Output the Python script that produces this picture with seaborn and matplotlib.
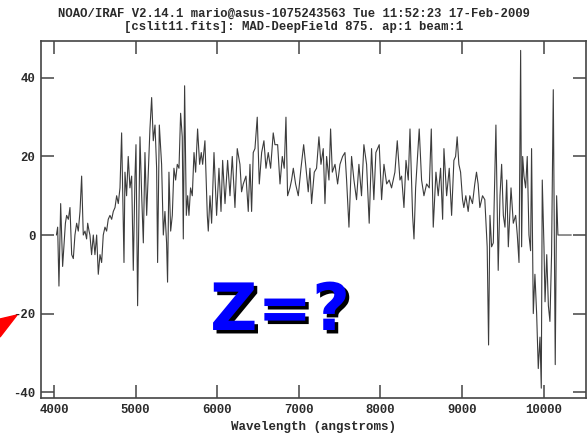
import matplotlib
matplotlib.use("Agg")
import matplotlib.pyplot as plt
import matplotlib.patheffects as pe
from matplotlib.patches import Polygon
import seaborn as sns
import pandas as pd

# spectrum (wavelength in angstroms, flux)
wave = [4030, 4045, 4061, 4082, 4106, 4125, 4140, 4155, 4176, 4196, 4217, 4237, 4257, 4278,
        4298, 4319, 4339, 4359, 4380, 4400, 4413, 4430, 4441, 4461, 4482, 4502, 4523, 4543,
        4564, 4584, 4604, 4625, 4645, 4665, 4686, 4707, 4727, 4748, 4768, 4788, 4809, 4829,
        4845, 4858,
        4870, 4890, 4910, 4931, 4952, 4972, 4993, 5005, 5025, 5054, 5075, 5095, 5115, 5136,
        5156, 5176, 5197, 5217, 5238, 5258, 5270, 5291, 5319, 5340, 5360, 5380, 5392, 5409,
        5430, 5450, 5470, 5491, 5511, 5532, 5552, 5572, 5585, 5601, 5622, 5638, 5654, 5674,
        5695, 5716, 5736, 5760, 5785,
        5805, 5822, 5850, 5879, 5891, 5912, 5932, 5961, 5993, 6022, 6047, 6067, 6096, 6128,
        6157, 6185, 6218, 6246, 6279, 6299, 6320, 6353, 6381, 6402, 6422, 6442, 6463, 6491,
        6516, 6545, 6573, 6598, 6626, 6655, 6687,
        6708, 6741, 6770, 6798, 6822, 6843, 6863, 6892, 6912, 6933, 6961, 6994, 7027, 7060,
        7084, 7116, 7137, 7157, 7190, 7218, 7247, 7272, 7300, 7321, 7341, 7370, 7390, 7411,
        7444, 7476, 7505, 7537, 7566, 7586, 7615,
        7647, 7676, 7708, 7737, 7769, 7798, 7831, 7863, 7892, 7920, 7945, 7986, 8015, 8044,
        8077, 8108, 8137, 8178, 8207, 8240, 8260, 8289, 8314, 8342, 8363, 8395, 8412, 8432,
        8476, 8505, 8534, 8567, 8599, 8624, 8648, 8681, 8709, 8738, 8763, 8779, 8812, 8844,
        8873, 8901, 8922, 8941, 8962, 8983, 9007, 9023, 9047, 9076, 9096, 9129, 9157, 9178,
        9198, 9219, 9252, 9280, 9309, 9326, 9343, 9363, 9384, 9416, 9444, 9466, 9486, 9507,
        9527, 9548, 9568, 9601, 9629, 9658, 9678, 9699, 9719, 9731, 9744, 9760, 9780, 9800,
        9821, 9841, 9853, 9874, 9894, 9915, 9935, 9956, 9972, 9984, 10005, 10018, 10039, 10059,
        10078, 10098, 10119, 10143, 10160, 10176, 10340]
flux = [0, 2, -13, 8, -8, -2, 3, 5, 4, 7, -5, -6, 0, 3,
        1, 6, 15, 0, 1, -1, 3, 1, 0, -5, 0, -5, 0, -10,
        -5, -7, 0, 2, 1, 4, 5, 4, 6, 7, 10, 8, 12, 26,
        8, -7,
        16, 10, 20, 12, 15, -9, 15, 23, -18, 25, 10, -2, 21, 5,
        16, 27, 35, 24, 28, 17, -7, 28, 18, 0, 6, -2, -12, 16,
        1, 5, 17, 14, 18, 17, 31, 25, -1, 38, 5, 10, 5, 12,
        10, 21, 16, 27, 18,
        21, 18, 24, 5, 1, 10, 3, 21, 5, 17, 6, 19, 8, 19,
        10, 20, 7, 22, 18, 11, 13, 15, 6, 18, 6, 21, 22, 30,
        13, 21, 24, 17, 21, 17, 26,
        23, 23, 13, 20, 17, 30, 10, 12, 14, 17, 13, 10, 17, 23,
        18, 11, 17, 8, 16, 17, 25, 18, 22, 8, 20, 14, 27, 16,
        18, 13, 18, 20, 21, 14, 2,
        20, 14, 9, 18, 10, 23, 18, 3, 22, 9, 21, 23, 9, 18,
        13, 14, 12, 16, 24, 14, 15, 7, 19, 14, 27, 5, -1, 12,
        27, 14, 10, 13, 12, 27, 2, 16, 10, 17, 4, 22, 10, 17,
        5, 19, 20, 25, 18, 16, 9, 7, 10, 6, 10, 8, 13, 16,
        13, 7, 10, 9, -3, -28, 5, -3, -2, 28, -9, 10, 18, 5,
        2, 14, -3, 12, 3, 5, 0, -7, 47, -3, 20, 15, 12, 20,
        0, -4, 22, -20, -10, -20, -34, -26, -39, 14, -3, -17, -5, -18,
        -22, -5, 37, -33, 10, 0, 0]

x_ticks = [4000, 5000, 6000, 7000, 8000, 9000, 10000]
y_ticks = [-40, -20, 0, 20, 40]

title_1 = "NOAO/IRAF V2.14.1 mario@asus-1075243563 Tue 11:52:23 17-Feb-2009"
title_2 = "[cslit11.fits]: MAD-DeepField 875. ap:1 beam:1"

df = pd.DataFrame({"wave": wave, "flux": flux})

sns.set_style("ticks")
plt.rcParams['font.family'] = ['Liberation Mono', 'DejaVu Sans']
plt.rcParams['font.weight'] = 'bold'
plt.rcParams['axes.unicode_minus'] = False

fig = plt.figure(figsize=(5.87, 4.42), dpi=100)
ax = fig.add_axes([41 / 587, 1 - 398 / 442, 545 / 587, 357 / 442])

sns.lineplot(data=df, x="wave", y="flux", ax=ax, color="#3c3c3c", lw=0.8,
             estimator=None, sort=False)

ax.set_xlim(3841, 10520)
ax.set_ylim(-41.5, 49.4)
ax.set_xticks(x_ticks)
ax.set_yticks(y_ticks)
ax.tick_params(direction="in", length=9.5, width=1.1, color="#444444",
               top=True, right=True, labelsize=8.8, labelcolor="#2a2a2a", pad=4)
for lab in ax.get_xticklabels() + ax.get_yticklabels():
    lab.set_fontweight("bold")
for s in ax.spines.values():
    s.set_color("#444444")
    s.set_linewidth(1.2)

ax.set_xlabel("Wavelength (angstroms)", fontsize=9, fontweight="bold", color="#2a2a2a", labelpad=4)
ax.set_ylabel("")

fig.text(0.5, 1 - 14 / 442, title_1, ha="center", va="center", fontsize=8.8,
         fontweight="bold", color="#2a2a2a")
fig.text(0.5, 1 - 27 / 442, title_2, ha="center", va="center", fontsize=8.8,
         fontweight="bold", color="#2a2a2a")

# big "Z=?" with a drop shadow
fig.text(280 / 587, 1 - 312 / 442, "Z=?", ha="center", va="center", fontsize=47,
         fontweight="bold", family="DejaVu Sans", color="#0000ff",
         path_effects=[pe.withSimplePatchShadow(offset=(2.5, -2.5), shadow_rgbFace="black",
                                                alpha=1.0)])

# red arrow tip at the left edge
tri = Polygon([(0, 1 - 319 / 442), (17 / 587, 1 - 315 / 442), (0, 1 - 337 / 442)],
              closed=True, transform=fig.transFigure, color="#ff0000", zorder=5)
fig.patches.append(tri)

fig.savefig("out.png", dpi=100)
